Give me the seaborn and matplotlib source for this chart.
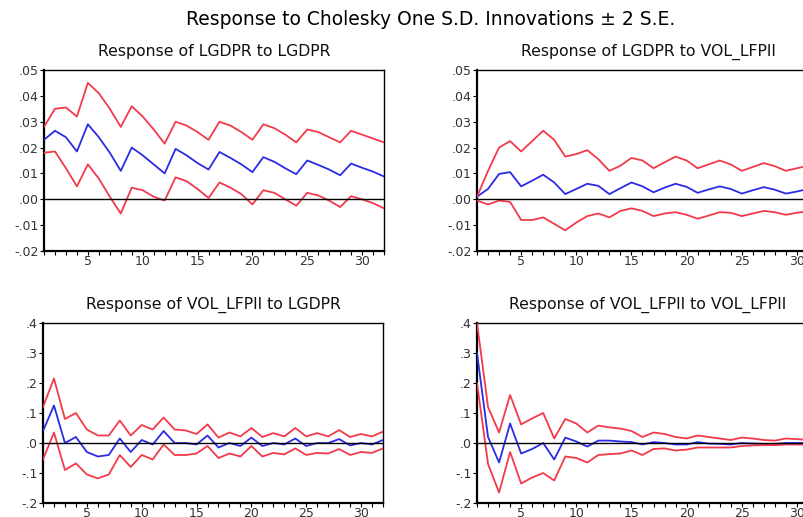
import numpy as np
import pandas as pd
import matplotlib
matplotlib.use("Agg")
import matplotlib.pyplot as plt
import seaborn as sns

horizon = list(range(1, 33))

# Response of LGDPR to LGDPR
gdp_gdp = [0.023, 0.0265, 0.024, 0.0185, 0.029, 0.024, 0.018, 0.011, 0.020, 0.017, 0.0135, 0.010,
           0.0195, 0.017, 0.014, 0.0115, 0.0183, 0.016, 0.0135, 0.0105, 0.0163, 0.0145, 0.012, 0.0097,
           0.015, 0.0133, 0.0115, 0.0093, 0.0138, 0.0122, 0.0107, 0.0088]
gdp_gdp_hi = [0.028, 0.035, 0.0355, 0.032, 0.045, 0.041, 0.035, 0.028, 0.036, 0.032, 0.027, 0.0215,
              0.030, 0.0285, 0.026, 0.023, 0.030, 0.0285, 0.026, 0.023, 0.029, 0.0275, 0.025, 0.022,
              0.027, 0.026, 0.024, 0.022, 0.0265, 0.025, 0.0235, 0.022]
gdp_gdp_lo = [0.018, 0.0185, 0.012, 0.005, 0.0135, 0.008, 0.001, -0.0055, 0.0045, 0.0035, 0.001, -0.0005,
              0.0085, 0.007, 0.004, 0.0005, 0.0065, 0.0045, 0.002, -0.002, 0.0035, 0.0025, 0.0, -0.0025,
              0.0025, 0.0015, -0.0005, -0.003, 0.0012, 0.0, -0.0015, -0.0035]

# Response of LGDPR to VOL_LFPII
gdp_vol = [0.001, 0.004, 0.0098, 0.0105, 0.005, 0.0072, 0.0095, 0.0065, 0.002, 0.004, 0.006, 0.0052,
           0.002, 0.0043, 0.0065, 0.005, 0.0027, 0.0045, 0.006, 0.0048, 0.0025, 0.0038, 0.005, 0.004,
           0.0022, 0.0035, 0.0047, 0.0037, 0.0022, 0.003, 0.004, 0.004]
gdp_vol_hi = [0.001, 0.011, 0.020, 0.0225, 0.0185, 0.0225, 0.0265, 0.023, 0.0165, 0.0175, 0.019, 0.0155,
              0.011, 0.013, 0.016, 0.015, 0.012, 0.0143, 0.0165, 0.015, 0.012, 0.0135, 0.015, 0.0135,
              0.011, 0.0125, 0.014, 0.0128, 0.011, 0.012, 0.013, 0.013]
gdp_vol_lo = [-0.0005, -0.002, -0.0005, -0.001, -0.008, -0.008, -0.007, -0.0095, -0.012, -0.009, -0.0065, -0.0055,
              -0.007, -0.0045, -0.0035, -0.0045, -0.0065, -0.0055, -0.005, -0.006, -0.0075, -0.0063, -0.005, -0.0052,
              -0.0065, -0.0055, -0.0045, -0.005, -0.006, -0.0052, -0.0047, -0.0047]

# Response of VOL_LFPII to LGDPR
vol_gdp = [0.04, 0.125, 0.0, 0.02, -0.03, -0.045, -0.04, 0.015, -0.03, 0.01, -0.005, 0.04,
           0.0, 0.0, -0.005, 0.025, -0.015, 0.0, -0.01, 0.018, -0.01, 0.0, -0.005, 0.015,
           -0.01, 0.0, 0.0, 0.013, -0.008, 0.0, -0.005, 0.01]
vol_gdp_hi = [0.12, 0.215, 0.08, 0.10, 0.045, 0.025, 0.025, 0.075, 0.025, 0.06, 0.045, 0.085,
              0.045, 0.042, 0.03, 0.062, 0.018, 0.035, 0.022, 0.05, 0.02, 0.033, 0.022, 0.05,
              0.022, 0.033, 0.022, 0.043, 0.02, 0.03, 0.022, 0.038]
vol_gdp_lo = [-0.055, 0.035, -0.09, -0.068, -0.105, -0.118, -0.105, -0.04, -0.08, -0.04, -0.055, -0.005,
              -0.04, -0.04, -0.035, -0.01, -0.05, -0.035, -0.045, -0.01, -0.045, -0.033, -0.038, -0.018,
              -0.04, -0.033, -0.035, -0.02, -0.04, -0.03, -0.033, -0.018]

# Response of VOL_LFPII to VOL_LFPII
vol_vol = [0.30, 0.02, -0.065, 0.065, -0.035, -0.02, 0.0, -0.055, 0.018, 0.005, -0.012, 0.008,
           0.008, 0.005, 0.003, -0.005, 0.003, 0.0, -0.005, -0.005, 0.003, -0.002, -0.003, -0.005,
           0.0, -0.002, -0.003, -0.003, 0.0, 0.0, 0.0, 0.0]
vol_vol_hi = [0.40, 0.12, 0.035, 0.16, 0.062, 0.082, 0.10, 0.015, 0.08, 0.065, 0.035, 0.058,
              0.052, 0.048, 0.04, 0.02, 0.035, 0.03, 0.02, 0.015, 0.025, 0.02, 0.015, 0.01,
              0.018, 0.015, 0.01, 0.008, 0.015, 0.013, 0.01, 0.01]
vol_vol_lo = [0.20, -0.07, -0.165, -0.03, -0.135, -0.115, -0.10, -0.125, -0.045, -0.05, -0.065, -0.04,
              -0.037, -0.035, -0.025, -0.04, -0.02, -0.018, -0.025, -0.022, -0.015, -0.015, -0.015, -0.015,
              -0.01, -0.008, -0.007, -0.007, -0.005, -0.005, -0.005, -0.005]

titles = ["Response of LGDPR to LGDPR", "Response of LGDPR to VOL_LFPII",
          "Response of VOL_LFPII to LGDPR", "Response of VOL_LFPII to VOL_LFPII"]
small_ticks = [0.05, 0.04, 0.03, 0.02, 0.01, 0.00, -0.01, -0.02]
small_labels = [".05", ".04", ".03", ".02", ".01", ".00", "-.01", "-.02"]
big_ticks = [0.4, 0.3, 0.2, 0.1, 0.0, -0.1, -0.2]
big_labels = [".4", ".3", ".2", ".1", ".0", "-.1", "-.2"]

sns.set_theme(style="white")
plt.rcParams['font.family'] = ['DejaVu Sans']

fig = plt.figure(figsize=(8.04, 5.17), dpi=100)
W, H = 804, 517
boxes = [(44, 70, 384, 251), (477, 70, 819, 251), (43, 323, 383, 503), (477, 323, 819, 503)]
panels = [(gdp_gdp, gdp_gdp_hi, gdp_gdp_lo), (gdp_vol, gdp_vol_hi, gdp_vol_lo),
          (vol_gdp, vol_gdp_hi, vol_gdp_lo), (vol_vol, vol_vol_hi, vol_vol_lo)]
red = "#f23a4a"
blue = "#2b2be6"

for i, ((l, t, r, b), (resp, hi, lo)) in enumerate(zip(boxes, panels)):
    ax = fig.add_axes([l / W, (H - b) / H, (r - l) / W, (b - t) / H])
    df = pd.DataFrame({
        "h": horizon * 3,
        "v": resp + hi + lo,
        "s": ["resp"] * 32 + ["hi"] * 32 + ["lo"] * 32,
    })
    ax.axhline(0, color="black", lw=1.0, zorder=5)
    sns.lineplot(data=df, x="h", y="v", hue="s", palette={"resp": blue, "hi": red, "lo": red},
                 linewidth=1.3, legend=False, ax=ax, zorder=3)
    ax.set_xlim(1, 32)
    if i < 2:
        ax.set_ylim(-0.02, 0.05)
        ax.set_yticks(small_ticks)
        ax.set_yticklabels(small_labels)
    else:
        ax.set_ylim(-0.2, 0.4)
        ax.set_yticks(big_ticks)
        ax.set_yticklabels(big_labels)
    ax.set_xticks(horizon)
    ax.set_xticklabels([str(h) if h % 5 == 0 else "" for h in horizon])
    ax.tick_params(axis="both", direction="out", length=3, width=0.8, color="black",
                   labelsize=9, labelcolor="#333333", pad=1, left=True, bottom=True)
    ax.tick_params(axis="x", pad=0)
    ax.set_xlabel("")
    ax.set_ylabel("")
    for side in ["left", "bottom"]:
        ax.spines[side].set_linewidth(1.6)
    for side in ["top", "right"]:
        ax.spines[side].set_linewidth(1.0)
    for sp in ax.spines.values():
        sp.set_color("black")
    ax.set_title(titles[i], fontsize=11.3, pad=10, color="#111111")

fig.text(0.535, 0.963, "Response to Cholesky One S.D. Innovations \u00b1 2 S.E.",
         ha="center", va="center", fontsize=13.5, color="black")

fig.savefig("out.png", dpi=100)
